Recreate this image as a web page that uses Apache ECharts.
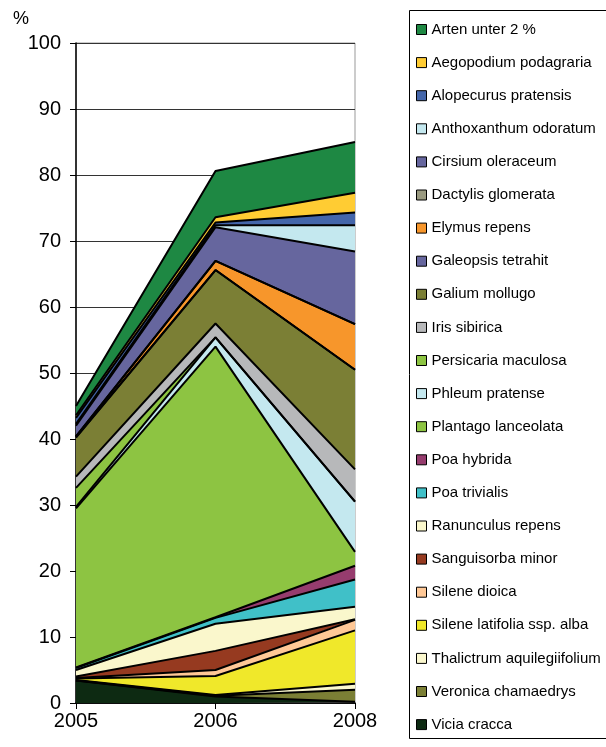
<!DOCTYPE html>
<html><head><meta charset="utf-8">
<script src="https://cdn.jsdelivr.net/npm/echarts@6/dist/echarts.min.js"></script>
<style>html,body{margin:0;padding:0;background:#fff}#c{width:606px;height:747px}</style>
</head><body><div id="c"></div>
<script>
// categories
const years = ['2005', '2006', '2008'];
// species shares in % (2005, 2006, 2008), stacked from bottom to top
const viciaCracca = [3.4, 1.0, 0.2];
const veronicaChamaedrys = [0.0, 0.1, 1.8];
const thalictrumAquilegiifolium = [0.1, 0.1, 0.9];
const sileneLatifolia = [0.2, 2.9, 8.1];
const sileneDioica = [0.1, 0.9, 1.6];
const sanguisorbaMinor = [0.2, 2.9, 0.1];
const ranunculusRepens = [1.0, 4.1, 1.9];
const poaTrivialis = [0.3, 0.9, 4.1];
const poaHybrida = [0.1, 0.1, 2.1];
const plantagoLanceolata = [24.1, 41.0, 2.1];
const phleumPratense = [0.2, 1.4, 7.6];
const persicariaMaculosa = [2.9, 0.0, 0.0];
const irisSibirica = [1.7, 2.1, 4.9];
const galiumMollugo = [5.9, 8.1, 15.1];
const galeopsisTetrahit = [0.1, 0.0, 0.0];
const elymusRepens = [0.1, 1.4, 6.9];
const dactylisGlomerata = [0.0, 0.0, 0.0];
const cirsiumOleraceum = [1.6, 5.1, 11.0];
const anthoxanthumOdoratum = [0.3, 0.3, 4.0];
const alopecurusPratensis = [0.9, 0.4, 1.9];
const aegopodiumPodagraria = [0.4, 0.8, 3.0];
const artenUnter2 = [1.4, 7.0, 7.7];

const stackDef = [
  ['Vicia cracca', viciaCracca, '#0D2A12'],
  ['Veronica chamaedrys', veronicaChamaedrys, '#7B7F35'],
  ['Thalictrum aquilegiifolium', thalictrumAquilegiifolium, '#FBF8CE'],
  ['Silene latifolia ssp. alba', sileneLatifolia, '#F0E82A'],
  ['Silene dioica', sileneDioica, '#FFC896'],
  ['Sanguisorba minor', sanguisorbaMinor, '#963A20'],
  ['Ranunculus repens', ranunculusRepens, '#FAF7CC'],
  ['Poa trivialis', poaTrivialis, '#40C0C8'],
  ['Poa hybrida', poaHybrida, '#963C6E'],
  ['Plantago lanceolata', plantagoLanceolata, '#8DC442'],
  ['Phleum pratense', phleumPratense, '#C4E8EF'],
  ['Persicaria maculosa', persicariaMaculosa, '#8DC442'],
  ['Iris sibirica', irisSibirica, '#B7B8BA'],
  ['Galium mollugo', galiumMollugo, '#7B7F35'],
  ['Galeopsis tetrahit', galeopsisTetrahit, '#66669E'],
  ['Elymus repens', elymusRepens, '#F7962B'],
  ['Dactylis glomerata', dactylisGlomerata, '#9A9A80'],
  ['Cirsium oleraceum', cirsiumOleraceum, '#66669E'],
  ['Anthoxanthum odoratum', anthoxanthumOdoratum, '#C4E8EF'],
  ['Alopecurus pratensis', alopecurusPratensis, '#4466AA'],
  ['Aegopodium podagraria', aegopodiumPodagraria, '#FFCC33'],
  ['Arten unter 2 %', artenUnter2, '#1E8843']
];

const font = '"Liberation Sans", Arial, sans-serif';
const chart = echarts.init(document.getElementById('c'), null, {renderer: 'canvas'});

const series = stackDef.map(([name, vals, col]) => ({
  name: name,
  type: 'line',
  stack: 'total',
  data: vals,
  symbol: 'none',
  showSymbol: false,
  color: col,
  lineStyle: {color: '#000', width: 2},
  itemStyle: {color: col},
  areaStyle: {color: col, opacity: 1},
  emphasis: {disabled: true},
  animation: false
}));

const legendData = stackDef.slice().reverse().map(([name, vals, col]) => ({
  name: name,
  icon: 'rect',
  itemStyle: {color: col, borderColor: '#000', borderWidth: 1}
}));

chart.setOption({
  animation: false,
  backgroundColor: '#fff',
  title: {
    text: '%', left: 8, top: 5,
    textStyle: {fontFamily: font, fontSize: 18, fontWeight: 'normal', color: '#000'}
  },
  graphic: [{
    type: 'rect',
    shape: {x: 409.5, y: 10.5, width: 240, height: 728},
    style: {fill: 'none', stroke: '#000', lineWidth: 1},
    z: 0
  }],
  grid: {left: 76, right: 251, top: 43, bottom: 44, show: true, borderColor: '#999', borderWidth: 1},
  legend: {
    orient: 'vertical',
    left: 409,
    top: 10,
    padding: [12, 10, 8, 7],
    itemWidth: 10,
    itemHeight: 10,
    itemGap: 18.1,
    selectedMode: false,
    textStyle: {fontFamily: font, fontSize: 15, color: '#000', lineHeight: 15},
    data: legendData
  },
  xAxis: {
    type: 'category',
    data: years,
    boundaryGap: false,
    axisLine: {lineStyle: {color: '#000', width: 1.5}},
    axisTick: {show: true, length: 6, lineStyle: {color: '#000', width: 1}},
    axisLabel: {fontFamily: font, fontSize: 20, color: '#000', margin: 8},
    splitLine: {show: false}
  },
  yAxis: {
    type: 'value',
    min: 0, max: 100, interval: 10,
    axisLine: {show: true, lineStyle: {color: '#000', width: 1.5}},
    axisTick: {show: true, length: 6, lineStyle: {color: '#000', width: 1}},
    axisLabel: {fontFamily: font, fontSize: 20, color: '#000', margin: 15},
    splitLine: {show: true, lineStyle: {color: '#333', width: 1}}
  },
  series: series
});
</script>
</body></html>
